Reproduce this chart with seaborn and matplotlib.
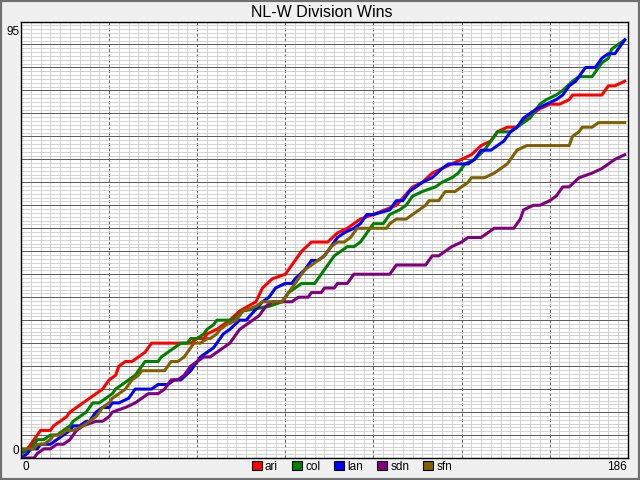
import matplotlib
matplotlib.use("Agg")
import matplotlib.pyplot as plt
import seaborn as sns
import pandas as pd
import numpy as np
from matplotlib.patches import Patch, Rectangle

# wins by day of season (vertices of each line)
ari_days = [0, 2, 4, 6, 9, 10, 12, 14, 15, 17, 19, 21, 23, 25, 27, 29, 30, 32, 34, 36, 38, 40, 47, 52,
            54, 56, 57, 60, 62, 64, 67, 72, 74, 77, 81, 83, 86, 89, 94, 97, 100, 104, 108, 115, 120, 123,
            126, 129, 132, 135, 138, 141, 144, 146, 149, 152, 155, 157, 159, 162, 165, 168, 169, 174,
            178, 180, 182, 185]
ari_wins = [1, 2, 4, 6, 6, 7, 8, 9, 10, 11, 12, 13, 14, 15, 17, 18, 20, 21, 21, 22, 23, 25, 25, 25,
            26, 26, 27, 28, 29, 30, 32, 34, 37, 39, 40, 42, 45, 47, 47, 49, 50, 52, 53, 55, 59, 60,
            62, 63, 64, 65, 66, 68, 69, 71, 72, 72, 74, 75, 76, 77, 77, 78, 79, 79,
            79, 81, 81, 82]

col_days = [0, 3, 4, 5, 7, 9, 11, 13, 15, 16, 18, 20, 21, 22, 24, 26, 28, 29, 31, 33, 35, 37, 38, 42,
            43, 45, 47, 49, 51, 52, 54, 56, 57, 59, 60, 65, 68, 76, 80, 82, 84, 86, 90, 91, 94, 96,
            98, 100, 102, 104, 108, 111, 113, 116, 118, 120, 123, 127, 129, 132, 134, 136, 139, 142,
            144, 146, 150, 154, 156, 159, 161, 164, 166, 169, 171, 175, 176, 178, 180, 181, 183, 185]
col_wins = [1, 2, 3, 4, 4, 5, 5, 6, 7, 8, 9, 10, 11, 12, 12, 13, 14, 15, 16, 17, 18, 20, 21, 21,
            22, 23, 24, 25, 25, 26, 26, 27, 28, 29, 30, 30, 32, 33, 34, 36, 37, 38, 38, 39, 42, 44,
            45, 46, 46, 47, 51, 51, 53, 54, 55, 57, 58, 59, 60, 61, 62, 64, 65, 67,
            69, 71, 71, 73, 74, 77, 78, 79, 80, 82, 83, 83, 84, 86, 87, 89, 90, 91]

lan_days = [0, 2, 3, 5, 6, 9, 11, 13, 15, 16, 18, 20, 21, 23, 25, 27, 28, 30, 33, 34, 35, 40, 42, 45,
            47, 49, 52, 54, 55, 57, 59, 60, 62, 64, 67, 69, 74, 76, 78, 81, 83, 84, 87, 89, 91, 93,
            95, 97, 99, 102, 104, 106, 108, 113, 115, 117, 119, 121, 123, 126, 129, 131, 134, 137,
            139, 141, 144, 146, 148, 150, 152, 154, 156, 158, 161, 164, 166, 168, 170, 172, 173, 176,
            178, 180, 182, 184, 185]
lan_wins = [0, 1, 2, 2, 3, 3, 4, 5, 6, 7, 7, 8, 8, 10, 11, 11, 12, 12, 13, 14, 15, 15, 16, 16,
            17, 17, 19, 21, 22, 23, 24, 25, 27, 28, 30, 30, 34, 35, 37, 38, 38, 39, 41, 43, 43, 44,
            46, 48, 49, 50, 51, 53, 53, 54, 56, 56, 58, 59, 60, 61, 63, 64, 64, 64,
            65, 67, 67, 68, 69, 71, 72, 74, 75, 76, 77, 78, 79, 81, 82, 84, 85, 85,
            87, 88, 88, 90, 91]

sdn_days = [0, 4, 5, 7, 9, 11, 13, 15, 17, 19, 23, 25, 27, 28, 32, 35, 37, 39, 42, 44, 46, 48, 50, 52,
            54, 56, 58, 60, 62, 64, 65, 67, 69, 71, 73, 75, 77, 80, 83, 85, 88, 89, 92, 93, 96, 97,
            100, 102, 103, 113, 115, 116, 124, 126, 128, 130, 132, 135, 137, 141, 143, 145, 151, 153,
            154, 157, 159, 162, 164, 166, 168, 171, 175, 178, 180, 182, 185]
sdn_wins = [0, 0, 1, 2, 2, 3, 3, 4, 6, 7, 8, 8, 9, 10, 11, 12, 13, 14, 14, 15, 17, 17, 18, 20,
            21, 22, 22, 23, 24, 25, 26, 28, 29, 30, 31, 33, 34, 34, 34, 35, 35, 36, 36, 37, 37, 38,
            38, 40, 40, 40, 42, 42, 42, 44, 44, 45, 46, 47, 48, 48, 49, 50, 50, 52,
            54, 55, 55, 56, 57, 59, 59, 61, 62, 63, 64, 65, 66]

sfn_days = [0, 4, 5, 7, 9, 10, 12, 14, 16, 19, 21, 23, 24, 25, 27, 28, 30, 32, 34, 36, 37, 44, 46, 48,
            50, 51, 53, 55, 57, 58, 60, 61, 63, 66, 68, 72, 74, 76, 80, 82, 85, 87, 89, 91, 93, 95,
            97, 99, 101, 103, 105, 112, 113, 115, 118, 120, 122, 124, 125, 128, 130, 133, 135, 137,
            138, 142, 145, 147, 149, 151, 152, 155, 168, 169, 171, 172, 175, 177, 180, 185]
sfn_wins = [2, 2, 3, 3, 4, 5, 5, 6, 6, 7, 8, 9, 10, 11, 12, 13, 14, 15, 17, 18, 19, 19, 21, 21,
            22, 23, 25, 25, 26, 26, 27, 28, 29, 30, 32, 33, 34, 34, 34, 36, 39, 41, 42, 43, 44, 46,
            47, 47, 48, 50, 50, 50, 51, 52, 52, 53, 54, 55, 56, 56, 58, 58, 59, 60,
            61, 61, 62, 63, 64, 66, 67, 68, 68, 70, 71, 72, 72, 73, 73, 73]

teams = ["ari", "col", "lan", "sdn", "sfn"]
colors = ["#ff0000", "#008000", "#0000ff", "#800080", "#806000"]
series = {
    "ari": (ari_days, ari_wins),
    "col": (col_days, col_wins),
    "lan": (lan_days, lan_wins),
    "sdn": (sdn_days, sdn_wins),
    "sfn": (sfn_days, sfn_wins),
}

frames = [pd.DataFrame({"day": d, "wins": w, "team": t}) for t, (d, w) in series.items()]
df = pd.concat(frames, ignore_index=True)

plt.rcParams["font.family"] = ["Liberation Sans", "DejaVu Sans"]

fig = plt.figure(figsize=(6.4, 4.8), dpi=100, facecolor="#f0f0f0")
ax = fig.add_axes([0.0328, 0.0458, 0.9484, 0.9094])
ax.set_facecolor("white")

sns.lineplot(data=df, x="day", y="wins", hue="team", hue_order=teams,
             palette=dict(zip(teams, colors)), estimator=None, sort=False,
             linewidth=2.2, legend=False, ax=ax)

ax.set_xlim(0, 186)
ax.set_ylim(0, 95)

# grid
ax.set_xticks(np.arange(0, 187, 27))
ax.set_xticks(np.arange(0, 187, 3), minor=True)
ax.set_yticks(np.arange(0, 96, 5))
ax.set_yticks(np.arange(0, 95.01, 5 / 6), minor=True)
ax.tick_params(which="both", length=0, labelbottom=False, labelleft=False)
ax.grid(which="minor", color="#cccccc", linewidth=0.6)
ax.xaxis.grid(which="major", color="#606060", linestyle=(0, (3, 2)), linewidth=0.75)
ax.yaxis.grid(which="major", color="#606060", linestyle="-", linewidth=0.75)
ax.set_axisbelow(True)
ax.set_xlabel("")
ax.set_ylabel("")
for s in ax.spines.values():
    s.set_color("black")
    s.set_linewidth(1.0)

# axis end labels
fs = 8.5
ax.annotate("95", (0, 95), xytext=(-1, -3), textcoords="offset points",
            ha="right", va="top", fontsize=fs, annotation_clip=False)
ax.annotate("0", (0, 0), xytext=(-1, 1), textcoords="offset points",
            ha="right", va="bottom", fontsize=fs, annotation_clip=False)
ax.annotate("0", (0, 0), xytext=(1, -2), textcoords="offset points",
            ha="left", va="top", fontsize=fs, annotation_clip=False)
ax.annotate("186", (186, 0), xytext=(-1, -2), textcoords="offset points",
            ha="right", va="top", fontsize=fs, annotation_clip=False)

fig.text(0.503, 1 - 12.5 / 480, "NL-W Division Wins", ha="center", va="center", fontsize=11.5)

handles = [Patch(facecolor=c, edgecolor="black", linewidth=0.8, label=t) for t, c in zip(teams, colors)]
fig.legend(handles=handles, loc="center", bbox_to_anchor=(0.55, 0.028), ncol=5, frameon=False,
           fontsize=fs, handlelength=0.85, handleheight=0.85, handletextpad=0.25,
           columnspacing=1.2, borderaxespad=0, borderpad=0)

fig.patches.append(Rectangle((0, 0), 1, 1, transform=fig.transFigure, fill=False,
                             edgecolor="#707070", linewidth=3))

fig.savefig("out.png", dpi=100, facecolor=fig.get_facecolor())
